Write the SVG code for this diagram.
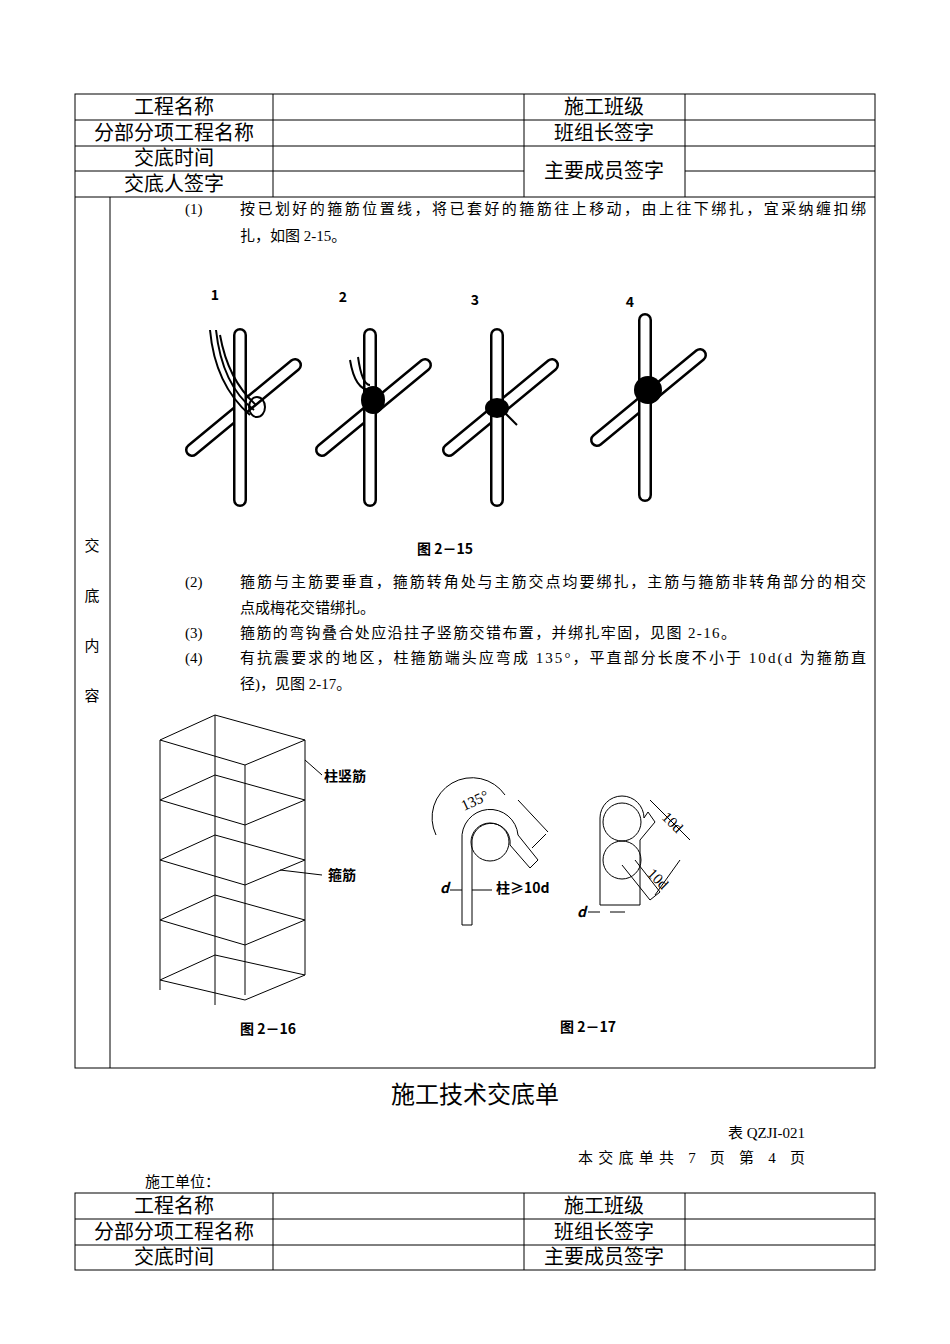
<svg xmlns="http://www.w3.org/2000/svg" width="950" height="1344" viewBox="0 0 950 1344">
<style>
.t{font-family:"Liberation Serif","Noto Sans CJK SC",serif;font-size:20px;fill:#000}
.s{font-family:"Liberation Serif","Noto Sans CJK SC",serif;font-size:15px;fill:#000}
.b{font-family:"Noto Sans CJK SC",sans-serif;font-size:14px;font-weight:bold;fill:#000}
.ln{stroke:#000;stroke-width:1;fill:none}
.bar{stroke:#000;stroke-width:14;stroke-linecap:round;fill:none}
.barw{stroke:#fff;stroke-width:9;stroke-linecap:round;fill:none}
.th{stroke:#000;stroke-width:2;fill:none}
</style>
<rect width="950" height="1344" fill="#fff"/>
<g id="table1" class="ln">
<rect x="75" y="94" width="800" height="974"/>
<line x1="75" y1="120" x2="875" y2="120"/><line x1="75" y1="146" x2="875" y2="146"/>
<line x1="75" y1="171" x2="524" y2="171"/><line x1="685" y1="171" x2="875" y2="171"/>
<line x1="75" y1="197" x2="875" y2="197"/>
<line x1="273" y1="94" x2="273" y2="197"/><line x1="524" y1="94" x2="524" y2="197"/><line x1="685" y1="94" x2="685" y2="197"/>
<line x1="110" y1="197" x2="110" y2="1068"/>
</g>
<g id="labels1" class="t" text-anchor="middle">
<text x="174" y="114">工程名称</text><text x="604" y="114">施工班级</text>
<text x="174" y="140">分部分项工程名称</text><text x="604" y="140">班组长签字</text>
<text x="174" y="165">交底时间</text><text x="604" y="178">主要成员签字</text>
<text x="174" y="191">交底人签字</text>
</g>
<g id="side" class="s" text-anchor="middle">
<text x="92" y="551">交</text><text x="92" y="601">底</text><text x="92" y="651">内</text><text x="92" y="701">容</text>
</g>
<g id="para" class="s">
<text x="185" y="214">(1)</text><text x="240" y="214" textLength="626" lengthAdjust="spacing">按已划好的箍筋位置线，将已套好的箍筋往上移动，由上往下绑扎，宜采纳缠扣绑</text>
<text x="240" y="241">扎，如图 2-15。</text>
<text x="185" y="587">(2)</text><text x="240" y="587" textLength="626" lengthAdjust="spacing">箍筋与主筋要垂直，箍筋转角处与主筋交点均要绑扎，主筋与箍筋非转角部分的相交</text>
<text x="240" y="613">点成梅花交错绑扎。</text>
<text x="185" y="638">(3)</text><text x="240" y="638" textLength="496" lengthAdjust="spacing">箍筋的弯钩叠合处应沿拄子竖筋交错布置，并绑扎牢固，见图 2-16。</text>
<text x="185" y="663">(4)</text><text x="240" y="663" textLength="626" lengthAdjust="spacing">有抗震要求的地区，柱箍筋端头应弯成 135°，平直部分长度不小于 10d(d 为箍筋直</text>
<text x="240" y="689">径)，见图 2-17。</text>
</g>
<g id="fig215">
<g class="b" text-anchor="middle"><text x="215" y="300">1</text><text x="343" y="302">2</text><text x="475" y="305">3</text><text x="630" y="307">4</text>
<text x="445" y="554">图 2－15</text></g>
<g transform="translate(240,405)"><path class="bar" d="M-48 45L55 -40"/><path class="barw" d="M-48 45L55 -40"/><path class="bar" d="M0 -70V95"/><path class="barw" d="M0 -70V95"/>
<path class="th" d="M-30 -75Q-25 -20 10 10M-24 -75Q-18 -20 14 5M-20 -70Q-12 -25 16 0"/><ellipse cx="17" cy="2" rx="8" ry="10" class="th"/></g>
<g transform="translate(370,405)"><path class="bar" d="M-48 45L55 -40"/><path class="barw" d="M-48 45L55 -40"/><path class="bar" d="M0 -70V95"/><path class="barw" d="M0 -70V95"/>
<path class="th" d="M-20 -45Q-15 -15 0 -15M-12 -48Q-8 -20 0 -20"/><ellipse cx="3" cy="-5" rx="12" ry="14" fill="#000"/></g>
<g transform="translate(497,405)"><path class="bar" d="M-48 45L55 -40"/><path class="barw" d="M-48 45L55 -40"/><path class="bar" d="M0 -70V95"/><path class="barw" d="M0 -70V95"/>
<ellipse cx="0" cy="3" rx="12" ry="10" fill="#000"/><path class="th" d="M5 5L20 20"/></g>
<g transform="translate(645,395)"><path class="bar" d="M-48 45L55 -40"/><path class="barw" d="M-48 45L55 -40"/><path class="bar" d="M0 -75V100"/><path class="barw" d="M0 -75V100"/>
<ellipse cx="3" cy="-5" rx="14" ry="14" fill="#000"/></g>
</g>
<g id="fig216" class="ln" stroke-width="1.5">
<path d="M160 740V990M215 715V1005M245 765V995M305 740V975"/>
<path d="M160 740L215 715L305 740L245 765Z"/>
<path d="M160 800L215 775L305 800L245 825Z"/>
<path d="M160 860L215 835L305 860L245 885Z"/>
<path d="M160 920L215 895L305 920L245 945Z"/>
<path d="M160 980L215 955L305 975L245 1000Z"/>
<path d="M305 760L322 775M280 870L322 875"/>
<text class="b" x="324" y="781" stroke="none">柱竖筋</text>
<text class="b" x="328" y="880" stroke="none">箍筋</text>
<text class="b" x="240" y="1034" stroke="none">图 2－16</text>
</g>
<g id="fig217" class="ln" stroke-width="1.5">
<path d="M462 925V840A28 28 0 0 1 518 835L538 860L530 868L510 845A18 18 0 0 0 472 840V925Z"/>
<circle cx="490" cy="842" r="19"/>
<path d="M436 835A40 40 0 0 1 505 795M518 800L548 832M532 848L546 834"/>
<path d="M450 890H462M472 890H492"/>
<text class="b" x="440" y="893" stroke="none" font-style="italic">d</text>
<text class="b" x="496" y="893" stroke="none">柱≥10d</text>
<text class="s" x="462" y="808" stroke="none" transform="rotate(-25 470 805)">135°</text>
<path d="M600 905V818A22 22 0 0 1 644 818L648 812L655 822L640 840V905Z"/>
<circle cx="622" cy="822" r="19"/><circle cx="622" cy="860" r="19"/>
<path d="M622 865L650 900L660 892L635 860M650 800L690 840M655 895L680 860"/>
<path d="M588 912H600M610 912H625"/>
<text class="s" x="658" y="825" stroke="none" transform="rotate(45 668 825)">10d</text>
<text class="s" x="645" y="878" stroke="none" transform="rotate(45 650 878)">10d</text>
<text class="b" x="577" y="917" stroke="none" font-style="italic">d</text>
<text class="b" x="560" y="1032" stroke="none">图 2－17</text>
</g>
<g id="footer">
<text x="475" y="1103" text-anchor="middle" style="font-family:'Noto Sans CJK SC',sans-serif;font-size:24px">施工技术交底单</text>
<text class="s" x="805" y="1138" text-anchor="end">表 QZJI-021</text>
<text class="s" x="578" y="1163" textLength="227" lengthAdjust="spacing">本交底单共 7 页   第 4 页</text>
<text x="145" y="1187" style="font-family:'Noto Sans CJK SC',sans-serif;font-size:15px">施工单位：</text>
</g>
<g id="table2" class="ln">
<rect x="75" y="1193" width="800" height="77"/>
<line x1="75" y1="1219" x2="875" y2="1219"/><line x1="75" y1="1245" x2="875" y2="1245"/>
<line x1="273" y1="1193" x2="273" y2="1270"/><line x1="524" y1="1193" x2="524" y2="1270"/><line x1="685" y1="1193" x2="685" y2="1270"/>
</g>
<g class="t" text-anchor="middle">
<text x="174" y="1213">工程名称</text><text x="604" y="1213">施工班级</text>
<text x="174" y="1239">分部分项工程名称</text><text x="604" y="1239">班组长签字</text>
<text x="174" y="1264">交底时间</text><text x="604" y="1264">主要成员签字</text>
</g>
</svg>
